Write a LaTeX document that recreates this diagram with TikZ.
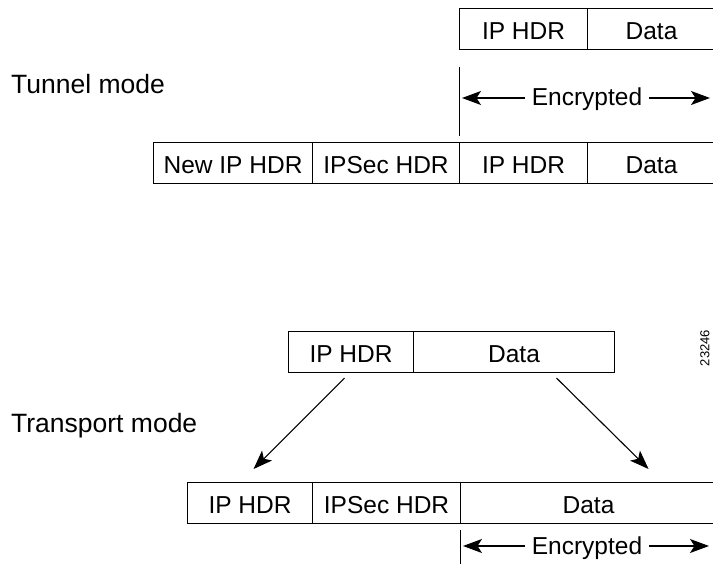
\documentclass[tikz,border=0pt]{standalone}
\usepackage{fontspec}
\setmainfont{Liberation Sans}
\usetikzlibrary{arrows.meta}
\begin{document}
\begin{tikzpicture}[x=1pt,y=-1pt,
  cell/.style={draw=black,line width=1.1pt,minimum height=41pt,inner sep=0pt,anchor=north west,
    font=\fontsize{24.5}{29}\selectfont,text height=20.5pt,text depth=0pt},
  lbl/.style={anchor=base west,inner sep=0pt,font=\fontsize{26.5}{31}\selectfont},
  enc/.style={anchor=base,inner sep=0pt,font=\fontsize{24.5}{29}\selectfont},
  arr/.style={line width=1.1pt,-{Stealth[length=19pt,width=14pt,inset=4.5pt]}},
  vline/.style={line width=1pt}]
\clip (0,0) rectangle (713,564);
\fill[white] (0,0) rectangle (713,564);
% Tunnel mode
\node[lbl] (tunnel) at (11,94) {Tunnel mode};
\node[cell,minimum width=128pt] (ta1) at (459,8) {IP HDR};
\node[cell,minimum width=128pt] (ta2) at (587,8) {Data};
\node[cell,minimum width=159pt] (tb1) at (153,142) {New IP HDR};
\node[cell,minimum width=147pt] (tb2) at (312,142) {IPSec HDR};
\node[cell,minimum width=128pt] (tb3) at (459,142) {IP HDR};
\node[cell,minimum width=128pt] (tb4) at (587,142) {Data};
\coordinate (tv1) at ([yshift=-17pt]ta1.south west);
\coordinate (tv2) at ([yshift=6pt]tb3.north west);
\draw[vline] (tv1) -- (tv2);
\node[enc] (enc1) at (587,106) {Encrypted};
\coordinate (e1l) at (462,98);
\coordinate (e1r) at (710,98);
\draw[arr] ([xshift=-7pt]enc1.west |- e1l) -- (e1l);
\draw[arr] ([xshift=7pt]enc1.east |- e1r) -- (e1r);
% Transport mode
\node[lbl] (transport) at (11,432) {Transport mode};
\node[cell,minimum width=125pt] (pa1) at (288,331) {IP HDR};
\node[cell,minimum width=201pt] (pa2) at (413,331) {Data};
\node[cell,minimum width=125pt] (pb1) at (187,482) {IP HDR};
\node[cell,minimum width=148pt] (pb2) at (312,482) {IPSec HDR};
\node[cell,minimum width=256pt] (pb3) at (460,482) {Data};
\draw[arr] ([xshift=-6.5pt,yshift=-5pt]pa1.south) -- ([xshift=3.5pt,yshift=13pt]pb1.north);
\draw[arr] ([xshift=42.5pt,yshift=-5pt]pa2.south) -- ([xshift=60pt,yshift=13pt]pb3.north);
\coordinate (pv1) at ([yshift=-6pt]pb3.south west);
\coordinate (pv2) at (460,566);
\draw[vline] (pv1) -- (pv2);
\node[enc] (enc2) at (587,554) {Encrypted};
\coordinate (e2l) at (463,546);
\coordinate (e2r) at (709,546);
\draw[arr] ([xshift=-7pt]enc2.west |- e2l) -- (e2l);
\draw[arr] ([xshift=7pt]enc2.east |- e2r) -- (e2r);
% figure number
\node[rotate=90,inner sep=0pt,font=\fontsize{13}{15}\selectfont] (fignum) at (705,348) {23246};
\end{tikzpicture}
\end{document}
